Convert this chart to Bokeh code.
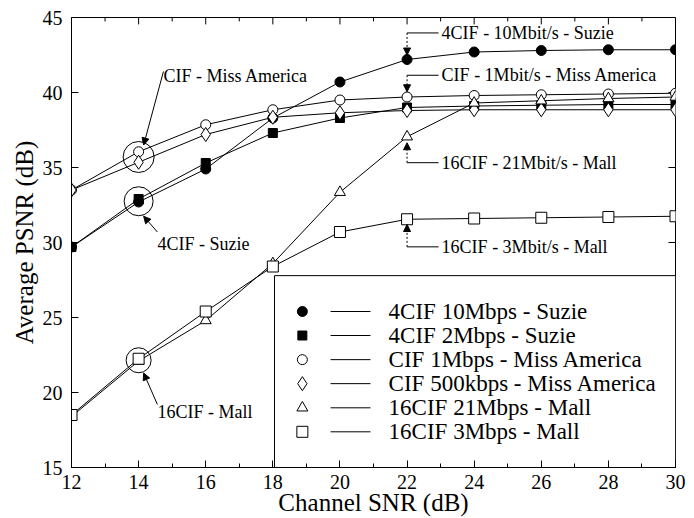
from bokeh.plotting import figure
from bokeh.models import Range1d, Arrow, NormalHead, FixedTicker
from bokeh.core.properties import value
from bokeh.embed import file_html
from bokeh.resources import INLINE

# ---------------- data ----------------
snr = [12, 14, 16, 18, 20, 22, 24, 26, 28, 30]
suzie_10m = [29.7, 32.7, 34.9, 38.3, 40.7, 42.2, 42.7, 42.8, 42.85, 42.85]
suzie_2m = [29.7, 32.9, 35.3, 37.3, 38.3, 39.0, 39.1, 39.15, 39.2, 39.2]
miss_1m = [33.5, 36.05, 37.85, 38.85, 39.5, 39.7, 39.8, 39.85, 39.9, 39.95]
miss_500k = [33.5, 35.35, 37.2, 38.35, 38.65, 38.8, 38.85, 38.85, 38.85, 38.85]
mall_21m = [18.4, 22.1, 24.8, 28.6, 33.35, 37.05, 39.3, 39.45, 39.6, 39.7]
mall_3m = [18.5, 22.25, 25.4, 28.4, 30.7, 31.55, 31.6, 31.65, 31.7, 31.75]

series_labels = ["4CIF 10Mbps - Suzie", "4CIF 2Mbps - Suzie", "CIF 1Mbps - Miss America",
                 "CIF 500kbps - Miss America", "16CIF 21Mbps - Mall", "16CIF 3Mbps - Mall"]
x_ticks = [12, 14, 16, 18, 20, 22, 24, 26, 28, 30]
x_minor = [13, 15, 17, 19, 21, 23, 25, 27, 29]
y_ticks = [15, 20, 25, 30, 35, 40, 45]

FONT = "Liberation Serif"

p = figure(width=694, height=518, output_backend="svg", toolbar_location=None,
           x_range=Range1d(12, 30), y_range=Range1d(15, 45),
           min_border_left=71, min_border_right=19, min_border_top=17, min_border_bottom=48)
p.background_fill_color = "white"
p.border_fill_color = "white"
p.outline_line_color = "black"
p.outline_line_width = 1
p.grid.visible = False

for ax in [p.xaxis[0], p.yaxis[0]]:
    ax.major_label_text_font = FONT
    ax.major_label_text_font_size = "20px"
    ax.major_label_text_color = "black"
    ax.axis_label_text_font = FONT
    ax.axis_label_text_font_size = "25px"
    ax.axis_label_text_font_style = "normal"
    ax.axis_label_text_color = "black"
    ax.major_tick_in = 7
    ax.major_tick_out = 0
    ax.minor_tick_in = 4
    ax.minor_tick_out = 0
    ax.axis_line_color = "black"

p.xaxis[0].ticker = FixedTicker(ticks=x_ticks, minor_ticks=x_minor)
p.yaxis[0].ticker = FixedTicker(ticks=y_ticks, minor_ticks=[])
p.xaxis[0].axis_label = "Channel SNR (dB)"
p.yaxis[0].axis_label = "Average PSNR (dB)"
p.xaxis[0].major_label_standoff = 7
p.xaxis[0].axis_label_standoff = -3
p.yaxis[0].major_label_standoff = 9
p.yaxis[0].axis_label_standoff = 2

# inward ticks on the top and right edges of the frame
p.segment(x0=x_ticks, y0=[45] * len(x_ticks), x1=x_ticks, y1=[44.54] * len(x_ticks),
          line_color="black", line_width=1)
p.segment(x0=x_minor, y0=[45] * len(x_minor), x1=x_minor, y1=[44.74] * len(x_minor),
          line_color="black", line_width=1)
p.segment(x0=[30] * len(y_ticks), y0=y_ticks, x1=[29.79] * len(y_ticks), y1=y_ticks,
          line_color="black", line_width=1)

# ---------------- series ----------------
series = [suzie_10m, suzie_2m, miss_1m, miss_500k, mall_21m, mall_3m]
styles = [
    dict(marker="circle", size=10, fill_color="black"),
    dict(marker="square", size=9, fill_color="black"),
    dict(marker="circle", size=10, fill_color="white"),
    dict(marker="diamond", size=14, fill_color="white"),
    dict(marker="triangle", size=11, fill_color="white"),
    dict(marker="square", size=11, fill_color="white"),
]
for ys in series:
    p.line(snr, ys, line_color="black", line_width=1)
for ys, st in zip(series, styles):
    p.scatter(snr, ys, line_color="black", line_width=1, **st)

# ---------------- legend (manual box) ----------------
leg_rows = [25.40, 23.80, 22.19, 20.59, 18.98, 17.38]
p.quad(left=18.05, right=30, bottom=15, top=27.79, fill_color="white", line_color="black", line_width=1)
for yy, st, lab in zip(leg_rows, styles, series_labels):
    p.scatter([18.88], [yy], line_color="black", line_width=1, **st)
    p.line([19.72, 20.91], [yy, yy], line_color="black", line_width=1)
p.text(x=[21.45] * 6, y=leg_rows, text=series_labels, text_font=value(FONT),
       text_font_size=value("23px"), text_baseline="middle", text_align="left", text_color="black")

# ---------------- annotations ----------------
def note(x, y, t):
    p.text(x=[x], y=[y], text=[t], text_font=value(FONT), text_font_size=value("18px"),
           text_baseline="middle", text_align="left", text_color="black")

def arrow(x0, y0, x1, y1, dash="solid"):
    p.add_layout(Arrow(end=NormalHead(size=7, fill_color="black", line_color="black", line_width=1),
                       x_start=x0, y_start=y0, x_end=x1, y_end=y1,
                       line_color="black", line_width=1, line_dash=dash))

# circled groups at SNR 14 dB
p.scatter([14.0], [35.7], marker="circle", size=31, fill_alpha=0, line_color="black", line_width=1)
p.scatter([14.0], [32.75], marker="circle", size=29, fill_alpha=0, line_color="black", line_width=1)
p.scatter([14.0], [22.15], marker="circle", size=25, fill_alpha=0, line_color="black", line_width=1)

note(14.74, 41.1, "CIF - Miss America")
arrow(14.74, 41.4, 14.15, 36.5)
note(14.56, 29.87, "4CIF - Suzie")
arrow(14.56, 30.7, 14.15, 31.75)
note(14.56, 18.68, "16CIF - Mall")
arrow(14.56, 19.2, 14.15, 21.3)

# callouts at SNR 22 dB
for ty, ay, t in [(43.97, 42.5, "4CIF - 10Mbit/s - Suzie"),
                  (41.15, 40.05, "CIF - 1Mbit/s - Miss America"),
                  (35.32, 36.65, "16CIF - 21Mbit/s - Mall"),
                  (29.71, 31.2, "16CIF - 3Mbit/s - Mall")]:
    p.line([22.0, 22.94], [ty, ty], line_color="black", line_width=1)
    arrow(22.0, ty, 22.0, ay, dash="2 2")
    note(23.03, ty, t)

open("out.html", "w").write(file_html(p, INLINE))
